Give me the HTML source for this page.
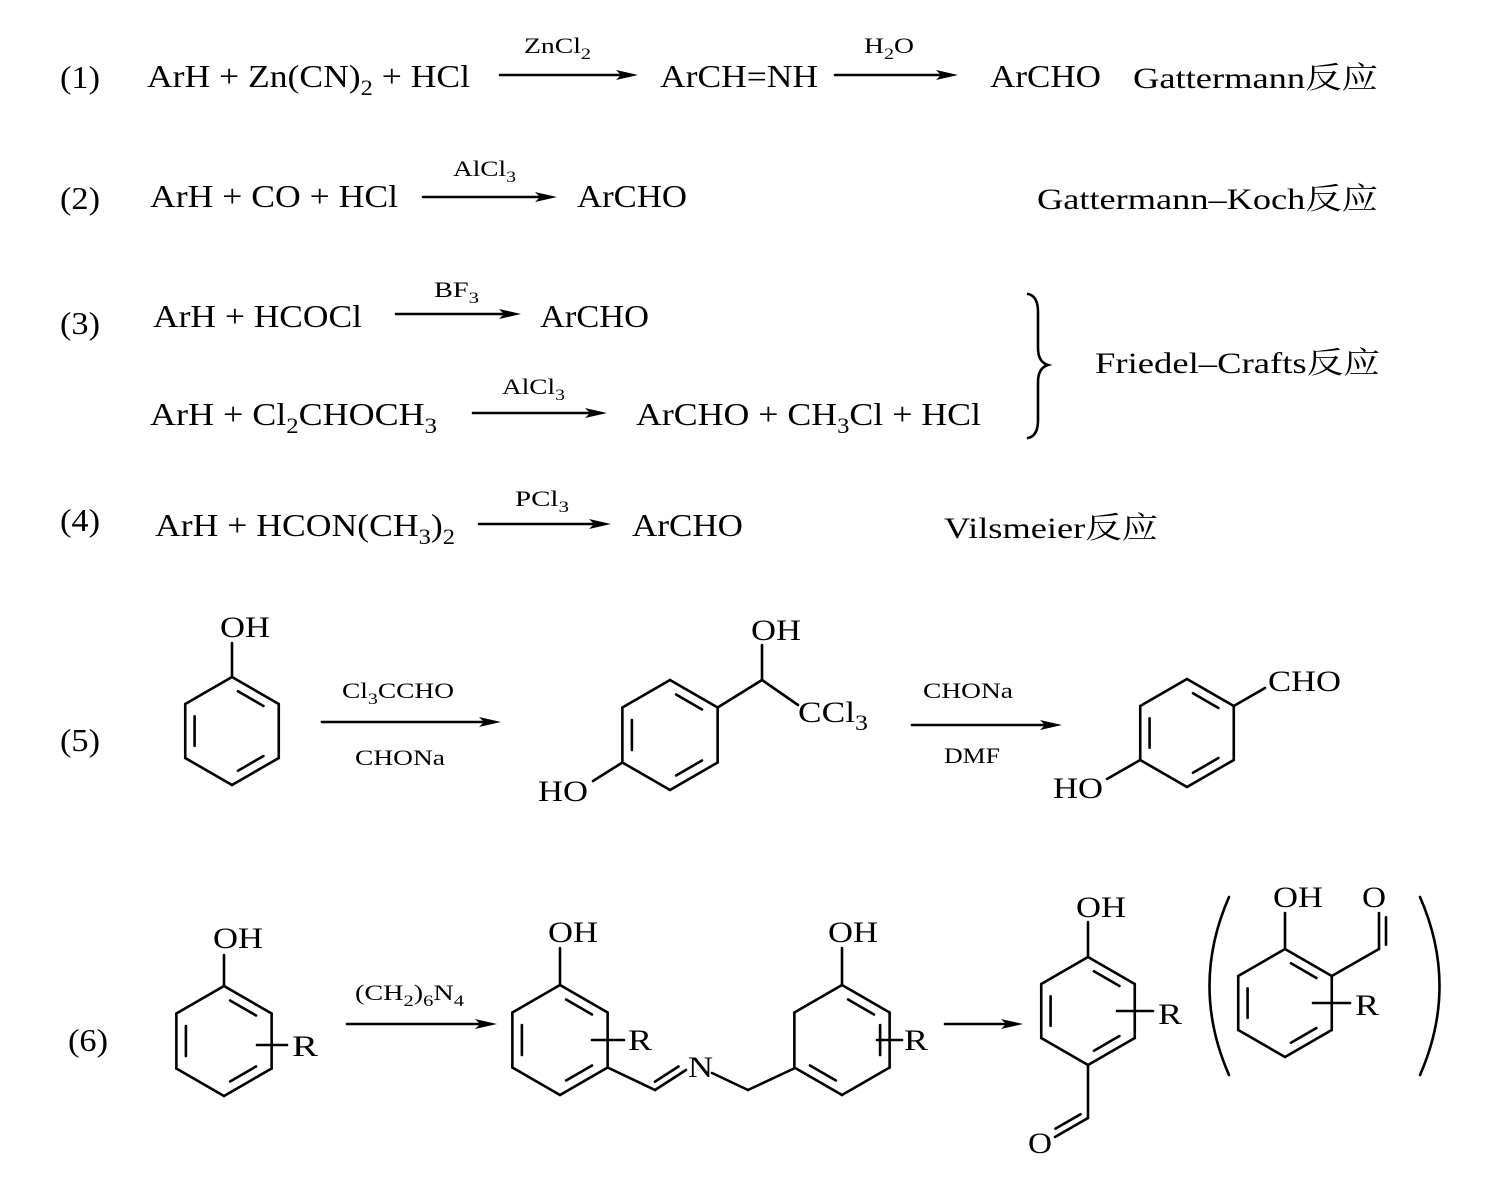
<!DOCTYPE html>
<html><head><meta charset="utf-8"><style>
html,body{margin:0;padding:0;background:#fff;}
svg{display:block;}
text{font-family:"Liberation Serif","Noto Serif CJK SC",serif;fill:#000;}
.m{font-size:32px;}
.s{font-size:22px;}
.c{font-size:30px;}
.sb{font-size:16px;}
</style></head><body>
<svg id="sv" width="1512" height="1201" viewBox="0 0 1512 1201" xmlns="http://www.w3.org/2000/svg">
<g id="bonds" stroke="#000" stroke-width="2.6" fill="none" stroke-linecap="round"></g>
<g id="heads" fill="#000"></g>
<!-- Row 1 -->
<text class="m" x="60" y="88" textLength="40" lengthAdjust="spacingAndGlyphs">(1)</text>
<text class="m" x="147" y="87" textLength="323" lengthAdjust="spacingAndGlyphs">ArH + Zn(CN)<tspan font-size="22" dy="8">2</tspan><tspan dy="-8"> + HCl</tspan></text>
<text class="s" x="524" y="53" textLength="67" lengthAdjust="spacingAndGlyphs">ZnCl<tspan class="sb" dy="6">2</tspan></text>
<text class="m" x="660" y="87" textLength="158" lengthAdjust="spacingAndGlyphs">ArCH=NH</text>
<text class="s" x="864" y="53" textLength="50" lengthAdjust="spacingAndGlyphs">H<tspan dy="6" class="sb">2</tspan><tspan dy="-6">O</tspan></text>
<text class="m" x="990" y="87" textLength="111" lengthAdjust="spacingAndGlyphs">ArCHO</text>
<text class="c" x="1133" y="88" textLength="245" lengthAdjust="spacingAndGlyphs">Gattermann反应</text>
<!-- Row 2 -->
<text class="m" x="60" y="209" textLength="40" lengthAdjust="spacingAndGlyphs">(2)</text>
<text class="m" x="150" y="207" textLength="248" lengthAdjust="spacingAndGlyphs">ArH + CO + HCl</text>
<text class="s" x="453" y="176" textLength="63" lengthAdjust="spacingAndGlyphs">AlCl<tspan class="sb" dy="6">3</tspan></text>
<text class="m" x="577" y="207" textLength="110" lengthAdjust="spacingAndGlyphs">ArCHO</text>
<text class="c" x="1037" y="209" textLength="341" lengthAdjust="spacingAndGlyphs">Gattermann–Koch反应</text>
<!-- Row 3 -->
<text class="m" x="60" y="334" textLength="40" lengthAdjust="spacingAndGlyphs">(3)</text>
<text class="m" x="153" y="327" textLength="209" lengthAdjust="spacingAndGlyphs">ArH + HCOCl</text>
<text class="s" x="434" y="297" textLength="45" lengthAdjust="spacingAndGlyphs">BF<tspan class="sb" dy="6">3</tspan></text>
<text class="m" x="540" y="327" textLength="109" lengthAdjust="spacingAndGlyphs">ArCHO</text>
<text class="m" x="150" y="425" textLength="287" lengthAdjust="spacingAndGlyphs">ArH + Cl<tspan font-size="22" dy="8">2</tspan><tspan dy="-8">CHOCH</tspan><tspan font-size="22" dy="8">3</tspan></text>
<text class="s" x="502" y="394" textLength="63" lengthAdjust="spacingAndGlyphs">AlCl<tspan class="sb" dy="6">3</tspan></text>
<text class="m" x="636" y="425" textLength="345" lengthAdjust="spacingAndGlyphs">ArCHO + CH<tspan font-size="22" dy="8">3</tspan><tspan dy="-8">Cl + HCl</tspan></text>
<text class="c" x="1095" y="373" textLength="285" lengthAdjust="spacingAndGlyphs">Friedel–Crafts反应</text>
<!-- Row 4 -->
<text class="m" x="60" y="531" textLength="40" lengthAdjust="spacingAndGlyphs">(4)</text>
<text class="m" x="155" y="536" textLength="300" lengthAdjust="spacingAndGlyphs">ArH + HCON(CH<tspan font-size="22" dy="8">3</tspan><tspan dy="-8">)</tspan><tspan font-size="22" dy="8">2</tspan></text>
<text class="s" x="515" y="506" textLength="54" lengthAdjust="spacingAndGlyphs">PCl<tspan class="sb" dy="6">3</tspan></text>
<text class="m" x="632" y="536" textLength="111" lengthAdjust="spacingAndGlyphs">ArCHO</text>
<text class="c" x="944" y="538" textLength="214" lengthAdjust="spacingAndGlyphs">Vilsmeier反应</text>
<!-- Row 5 -->
<text class="m" x="60" y="751" textLength="40" lengthAdjust="spacingAndGlyphs">(5)</text>
<text class="c" x="220" y="637" textLength="50" lengthAdjust="spacingAndGlyphs">OH</text>
<text class="s" x="342" y="698" textLength="112" lengthAdjust="spacingAndGlyphs">Cl<tspan class="sb" dy="6">3</tspan><tspan dy="-6">CCHO</tspan></text>
<text class="s" x="355" y="765" textLength="90" lengthAdjust="spacingAndGlyphs">CHONa</text>
<text class="c" x="751" y="640" textLength="50" lengthAdjust="spacingAndGlyphs">OH</text>
<text class="c" x="798" y="722" textLength="70" lengthAdjust="spacingAndGlyphs">CCl<tspan font-size="22" dy="8">3</tspan></text>
<text class="c" x="538" y="801" textLength="50" lengthAdjust="spacingAndGlyphs">HO</text>
<text class="s" x="923" y="698" textLength="90" lengthAdjust="spacingAndGlyphs">CHONa</text>
<text class="s" x="944" y="763" textLength="56" lengthAdjust="spacingAndGlyphs">DMF</text>
<text class="c" x="1268" y="691" textLength="73" lengthAdjust="spacingAndGlyphs">CHO</text>
<text class="c" x="1053" y="798" textLength="50" lengthAdjust="spacingAndGlyphs">HO</text>
<!-- Row 6 -->
<text class="m" x="68" y="1051" textLength="40" lengthAdjust="spacingAndGlyphs">(6)</text>
<text class="c" x="213" y="948" textLength="50" lengthAdjust="spacingAndGlyphs">OH</text>
<text class="c" x="292" y="1056" textLength="26" lengthAdjust="spacingAndGlyphs">R</text>
<text class="s" x="355" y="1000" textLength="109" lengthAdjust="spacingAndGlyphs">(CH<tspan class="sb" dy="6">2</tspan><tspan dy="-6">)</tspan><tspan class="sb" dy="6">6</tspan><tspan dy="-6">N</tspan><tspan class="sb" dy="6">4</tspan></text>
<text class="c" x="548" y="942" textLength="50" lengthAdjust="spacingAndGlyphs">OH</text>
<text class="c" x="628" y="1050" textLength="24" lengthAdjust="spacingAndGlyphs">R</text>
<text class="c" x="688" y="1077" textLength="25" lengthAdjust="spacingAndGlyphs">N</text>
<text class="c" x="828" y="942" textLength="50" lengthAdjust="spacingAndGlyphs">OH</text>
<text class="c" x="904" y="1050" textLength="24" lengthAdjust="spacingAndGlyphs">R</text>
<text class="c" x="1076" y="917" textLength="50" lengthAdjust="spacingAndGlyphs">OH</text>
<text class="c" x="1158" y="1024" textLength="24" lengthAdjust="spacingAndGlyphs">R</text>
<text class="c" x="1028" y="1153" textLength="24" lengthAdjust="spacingAndGlyphs">O</text>
<text class="c" x="1273" y="907" textLength="50" lengthAdjust="spacingAndGlyphs">OH</text>
<text class="c" x="1362" y="907" textLength="24" lengthAdjust="spacingAndGlyphs">O</text>
<text class="c" x="1355" y="1015" textLength="24" lengthAdjust="spacingAndGlyphs">R</text>
</svg>
<script>
var B=document.getElementById('bonds'),H=document.getElementById('heads'),NS='http://www.w3.org/2000/svg';
function L(x1,y1,x2,y2){var l=document.createElementNS(NS,'line');l.setAttribute('x1',x1);l.setAttribute('y1',y1);l.setAttribute('x2',x2);l.setAttribute('y2',y2);B.appendChild(l);}
function P(d){var p=document.createElementNS(NS,'path');p.setAttribute('d',d);B.appendChild(p);}
function A(x1,x2,y){L(x1,y,x2-14,y);var p=document.createElementNS(NS,'polygon');p.setAttribute('points',(x2-22)+','+(y-5)+' '+x2+','+y+' '+(x2-22)+','+(y+5)+' '+(x2-17)+','+y);H.appendChild(p);}
function hex(cx,cy,R,inner){var v=[];for(var i=0;i<6;i++){var a=(-90+60*i)*Math.PI/180;v.push([cx+R*Math.cos(a),cy+R*Math.sin(a)]);}
for(var i=0;i<6;i++){var a=v[i],b=v[(i+1)%6];L(a[0],a[1],b[0],b[1]);}
inner.forEach(function(i){var a=v[i],b=v[(i+1)%6],f=0.2,s=0.16;var ax=a[0]+(cx-a[0])*f,ay=a[1]+(cy-a[1])*f,bx=b[0]+(cx-b[0])*f,by=b[1]+(cy-b[1])*f;L(ax+(bx-ax)*s,ay+(by-ay)*s,bx+(ax-bx)*s,by+(ay-by)*s);});return v;}
function dbl(x1,y1,x2,y2,side){var dx=x2-x1,dy=y2-y1,l=Math.hypot(dx,dy),nx=-dy/l*7*side,ny=dx/l*7*side;L(x1,y1,x2,y2);L(x1+nx+dx*0.12,y1+ny+dy*0.12,x2+nx-dx*0.12,y2+ny-dy*0.12);}
A(500,638,75);A(835,958,75);A(423,557,197);A(396,521,314);A(473,607,413);A(479,611,524);
A(322,501,722);A(912,1062,725);A(347,497,1024);A(945,1023,1024);
P('M1028,294 Q1038,296 1038,312 L1038,348 Q1038,362 1048,365 Q1038,368 1038,382 L1038,420 Q1038,436 1028,438');
var v=hex(232,731,54,[0,2,4]);L(232,677,232,643);
v=hex(670,735,55,[0,2,4]);L(v[1][0],v[1][1],762,680);L(762,680,762,645);L(762,680,798,705);L(v[4][0],v[4][1],593,781);
v=hex(1187,733,54,[0,2,4]);L(v[1][0],v[1][1],1265,688);L(v[4][0],v[4][1],1107,779);
v=hex(224,1041,55,[0,2,4]);L(224,986,224,955);L(257,1045,287,1045);
v=hex(560,1040,55,[0,2,4]);L(560,985,560,948);L(592,1040,624,1040);
L(v[2][0],v[2][1],655,1090);dbl(655,1090,686,1070,-1);L(712,1073,748,1090);L(748,1090,795,1068);
v=hex(842,1040,55,[0,1,3]);L(842,985,842,948);L(877,1040,902,1040);
v=hex(1088,1011,54,[0,2,4]);L(1088,957,1088,922);L(1117,1011,1153,1011);L(1088,1065,1088,1118);dbl(1088,1118,1055,1137,1);
v=hex(1285,1003,54,[0,2,4]);L(1285,949,1285,913);L(v[1][0],v[1][1],1379,949);dbl(1379,949,1379,913,1);L(1313,1003,1350,1003);
P('M1229,897 Q1190,986 1229,1075');P('M1420,897 Q1459,986 1420,1075');
</script>
</body></html>
